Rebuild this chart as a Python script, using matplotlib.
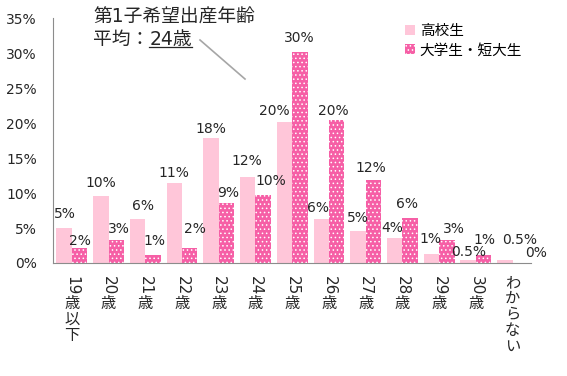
import matplotlib
matplotlib.use("Agg")
import matplotlib.pyplot as plt
from matplotlib.lines import Line2D
from matplotlib.transforms import blended_transform_factory
import numpy as np

plt.rcParams['font.family'] = ['DejaVu Sans', 'Noto Sans CJK JP']
plt.rcParams['hatch.linewidth'] = 0.6

# ── data (percent) ───────────────────────────────────────────────────────────
categories = ["19歳以下", "20歳", "21歳", "22歳", "23歳", "24歳", "25歳",
              "26歳", "27歳", "28歳", "29歳", "30歳", "わからない"]
high_school = [5.0, 9.6, 6.3, 11.5, 17.9, 12.3, 20.2, 6.3, 4.6, 3.6, 1.3, 0.5, 0.5]
university = [2.1, 3.3, 1.2, 2.1, 8.6, 9.7, 30.1, 20.4, 11.9, 6.4, 3.3, 1.1, 0.0]
hs_labels = ["5%", "10%", "6%", "11%", "18%", "12%", "20%", "6%", "5%", "4%",
             "1%", "0.5%", "0.5%"]
univ_labels = ["2%", "3%", "1%", "2%", "9%", "10%", "30%", "20%", "12%", "6%",
               "3%", "1%", "0%"]
series_names = ["高校生", "大学生・短大生"]
yticks = [0, 5, 10, 15, 20, 25, 30, 35]

# label nudges in pixels (x shift, gap above bar)
HS_DX = [1, 0, 5, 0, 0, -1, -10.5, -3, 0, -2, -1.5, 0.7, 14.5]
HS_DY = [10, 9, 9, 5.5, 4.7, 11.7, 6.6, 7, 8.7, 6, 11, 3, 15]
UN_DX = [0.5, 3, 1, 5, 1.5, 7.7, -1, -3, -2.5, -3, 7, 1, 15.5]
UN_DY = [3, 7, 10, 15, 6, 10, 10, 5, 8, 10, 7, 11, 6]

LIGHT = "#FFC6D9"
DARK = "#F65FA6"
TXT = "#262626"

W, H = 567, 376
fig = plt.figure(figsize=(W / 100, H / 100), dpi=100)
ax = fig.add_axes([53.4 / W, 1 - 263 / H, (531 - 53.4) / W, (263 - 18) / H])

x = np.arange(len(categories))
bw = 0.42
b1 = ax.bar(x - bw / 2, high_school, bw, color=LIGHT, linewidth=0,
            label=series_names[0])
b2 = ax.bar(x + bw / 2, university, bw, color=DARK, edgecolor="white",
            linewidth=0, hatch="....", label=series_names[1])

for bars, labels, dxs, dys in [(b1, hs_labels, HS_DX, HS_DY),
                               (b2, univ_labels, UN_DX, UN_DY)]:
    for rect, lab, dx, dy in zip(bars, labels, dxs, dys):
        ax.annotate(lab, (rect.get_x() + rect.get_width() / 2, rect.get_height()),
                    xytext=(dx, dy), textcoords="offset pixels",
                    ha="center", va="baseline", fontsize=10, color=TXT)

ax.set_xlim(-0.5, len(categories) - 0.5)
ax.set_ylim(0, 35)
ax.set_yticks(yticks)
ax.set_yticklabels([f"{t}%" for t in yticks], fontsize=10, color=TXT)
ax.tick_params(axis="y", length=0, pad=12)
ax.set_xticks([])
for s in ["top", "right"]:
    ax.spines[s].set_visible(False)
for s in ["left", "bottom"]:
    ax.spines[s].set_color("#8C8C8C")
    ax.spines[s].set_linewidth(0.8)

# vertical (tategaki) category labels: digits rotated, kana/kanji upright
FS = 11
trans = blended_transform_factory(ax.transData, ax.transAxes)
for i, lab in enumerate(categories):
    tokens, run = [], ""
    for ch in lab:
        if ch.isascii():
            run += ch
        else:
            if run:
                tokens.append(run); run = ""
            tokens.append(ch)
    if run:
        tokens.append(run)
    off = 9.0  # points below the axis
    for tok in tokens:
        if tok.isascii():
            ax.annotate(tok, (i, 0), xytext=(0, -off), textcoords="offset points",
                        xycoords=trans, rotation=-90, ha="center", va="top",
                        fontsize=FS, color=TXT)
            off += 0.64 * FS * len(tok) + 1
        else:
            ax.annotate(tok, (i, 0), xytext=(0, -off), textcoords="offset points",
                        xycoords=trans, ha="center", va="top",
                        fontsize=FS, color=TXT)
            off += 1.03 * FS

ax.legend(loc="upper left", bbox_to_anchor=(405 / W, 1 - 23 / H),
          bbox_transform=fig.transFigure, frameon=False, fontsize=10.5,
          handlelength=0.7, handleheight=0.7, handletextpad=0.3,
          labelspacing=0.3, borderpad=0, borderaxespad=0)

# callout: mean desired age at first birth
fig.text(93 / W, 1 - 8 / H, "第1子希望出産年齢", fontsize=13.5, color=TXT,
         ha="left", va="top")
t_avg = fig.text(93 / W, 1 - 30 / H, "平均：", fontsize=13.5, color=TXT,
                 ha="left", va="top")
fig.canvas.draw()
r = fig.canvas.get_renderer()
bb = t_avg.get_window_extent(r)
t_age = fig.text(bb.x1 / W, 1 - 30 / H, "24歳", fontsize=13.5, color=TXT,
                 ha="left", va="top")
fig.canvas.draw()
bb2 = t_age.get_window_extent(r)
uy = 1 - 47 / H
fig.add_artist(Line2D([bb2.x0 / W, bb2.x1 / W], [uy, uy], color=TXT, lw=0.9,
                      transform=fig.transFigure))
fig.add_artist(Line2D([200 / W, 245 / W], [1 - 40 / H, 1 - 79 / H],
                      color="#A6A6A6", lw=1.2, transform=fig.transFigure))

fig.savefig("out.png", dpi=100)
